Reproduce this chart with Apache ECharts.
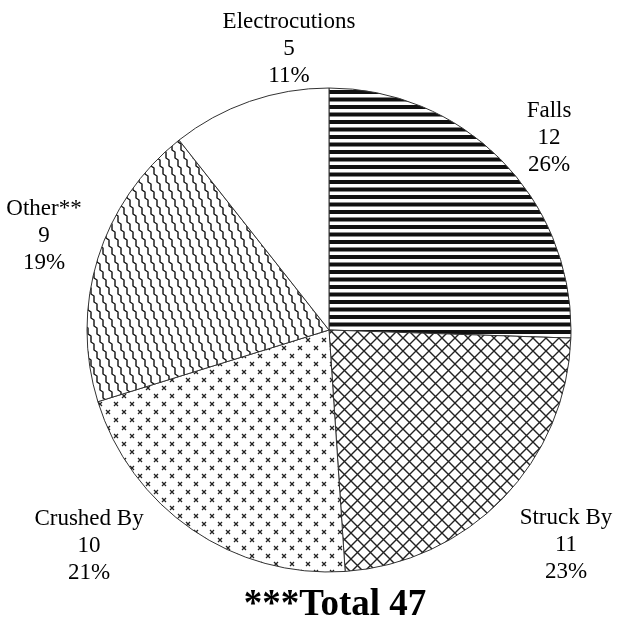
<!DOCTYPE html>
<html>
<head>
<meta charset="utf-8">
<script src="https://cdn.jsdelivr.net/npm/echarts@6/dist/echarts.min.js"></script>
<style>
  html, body { margin: 0; padding: 0; background: #fff; }
  #chart { width: 630px; height: 621px; }
</style>
</head>
<body>
<div id="chart"></div>
<script>
// Fatality causes and counts
const categories = ['Falls', 'Struck By', 'Crushed By', 'Other**', 'Electrocutions'];
const counts = [12, 11, 10, 9, 5];
const totalLabel = '***Total 47';

// Label anchor points (centre of each three-line label)
const labelAnchors = [
  [549, 138],
  [566, 545],
  [89, 546],
  [44, 236],
  [289, 49]
];

function makeTile(w, h, draw) {
  const c = document.createElement('canvas');
  c.width = w; c.height = h;
  const ctx = c.getContext('2d');
  ctx.fillStyle = '#fff';
  ctx.fillRect(0, 0, w, h);
  draw(ctx);
  return { image: c, repeat: 'repeat' };
}

// Horizontal stripes
const stripes = makeTile(8, 15, ctx => {
  ctx.fillStyle = '#111';
  ctx.fillRect(0, 0, 8, 4);
  ctx.fillRect(0, 7.5, 8, 4);
});

// Diagonal crosshatch
const crosshatch = makeTile(13, 13, ctx => {
  ctx.strokeStyle = '#222';
  ctx.lineWidth = 1.4;
  ctx.beginPath();
  ctx.moveTo(-1, -1); ctx.lineTo(14, 14);
  ctx.moveTo(14, -1); ctx.lineTo(-1, 14);
  ctx.stroke();
});

// Small staggered crosses
const crosses = makeTile(16, 16, ctx => {
  ctx.strokeStyle = '#222';
  ctx.lineWidth = 1.3;
  const x = (cx, cy) => {
    ctx.moveTo(cx - 2, cy - 2); ctx.lineTo(cx + 2, cy + 2);
    ctx.moveTo(cx + 2, cy - 2); ctx.lineTo(cx - 2, cy + 2);
  };
  ctx.beginPath();
  x(4, 4); x(12, 12);
  ctx.stroke();
});

// Stepped slanted lines: each step drops 8px and shifts 3px right
const staircase = makeTile(9, 24, ctx => {
  ctx.strokeStyle = '#111';
  ctx.lineWidth = 1.4;
  ctx.beginPath();
  for (const off of [-9, 0, 9]) {
    let x = 1 + off;
    ctx.moveTo(x, -1);
    for (let s = 0; s < 3; s++) {
      const y = s * 8;
      ctx.lineTo(x, y + 6);
      ctx.lineTo(x + 3, y + 8);
      x += 3;
    }
    ctx.lineTo(x, 25);
  }
  ctx.stroke();
});

const fills = [stripes, crosshatch, crosses, staircase, '#ffffff'];

const chart = echarts.init(document.getElementById('chart'), null, { renderer: 'canvas' });

chart.setOption({
  animation: false,
  backgroundColor: '#fff',
  title: {
    text: totalLabel,
    left: 330,
    top: 582,
    textAlign: 'center',
    textStyle: {
      fontFamily: 'Liberation Serif',
      fontWeight: 'bold',
      fontSize: 37,
      color: '#000'
    }
  },
  series: [{
    type: 'pie',
    center: [329, 330],
    radius: 242,
    startAngle: 90,
    clockwise: true,
    percentPrecision: 0,
    avoidLabelOverlap: false,
    itemStyle: { borderColor: '#333', borderWidth: 1 },
    label: {
      show: true,
      formatter: '{b}\n{c}\n{d}%',
      fontFamily: 'Liberation Serif',
      fontSize: 23,
      lineHeight: 27,
      color: '#000',
      align: 'center'
    },
    labelLine: { show: false },
    labelLayout: params => ({
      x: labelAnchors[params.dataIndex][0],
      y: labelAnchors[params.dataIndex][1],
      align: 'center',
      verticalAlign: 'middle'
    }),
    emphasis: { disabled: true },
    data: categories.map((name, i) => ({
      name,
      value: counts[i],
      itemStyle: { color: fills[i] }
    }))
  }]
});
</script>
</body>
</html>
